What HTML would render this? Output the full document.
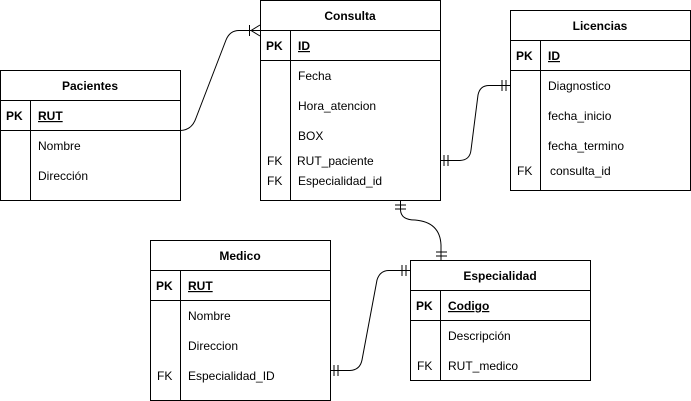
<!DOCTYPE html>
<html><head><meta charset="utf-8"><style>
html,body{margin:0;padding:0;background:#fff;}
svg{display:block;}
text{font-family:"Liberation Sans",Helvetica,Arial,sans-serif;font-size:12px;fill:#000;}
.b{font-weight:bold;}
</style></head><body>
<svg width="691" height="401" viewBox="0 0 691 401" xmlns="http://www.w3.org/2000/svg">
<g fill="#fff" stroke="#000" stroke-width="1">
<rect x="260.5" y="0.5" width="180" height="200"/>
<line x1="260.5" y1="30.5" x2="440.5" y2="30.5"/>
<line x1="260.5" y1="60.5" x2="440.5" y2="60.5"/>
<line x1="290.5" y1="30.5" x2="290.5" y2="200.5"/>
<rect x="0.5" y="70.5" width="180" height="130"/>
<line x1="0.5" y1="100.5" x2="180.5" y2="100.5"/>
<line x1="0.5" y1="130.5" x2="180.5" y2="130.5"/>
<line x1="30.5" y1="100.5" x2="30.5" y2="200.5"/>
<rect x="510.5" y="10.5" width="180" height="180"/>
<line x1="510.5" y1="40.5" x2="690.5" y2="40.5"/>
<line x1="510.5" y1="70.5" x2="690.5" y2="70.5"/>
<line x1="540.5" y1="40.5" x2="540.5" y2="190.5"/>
<rect x="150.5" y="240.5" width="180" height="160"/>
<line x1="150.5" y1="270.5" x2="330.5" y2="270.5"/>
<line x1="150.5" y1="300.5" x2="330.5" y2="300.5"/>
<line x1="180.5" y1="270.5" x2="180.5" y2="400.5"/>
<rect x="410.5" y="260.5" width="180" height="120"/>
<line x1="410.5" y1="290.5" x2="590.5" y2="290.5"/>
<line x1="410.5" y1="320.5" x2="590.5" y2="320.5"/>
<line x1="440.5" y1="290.5" x2="440.5" y2="380.5"/>
</g>
<g fill="none" stroke="#000" stroke-width="1">
<path d="M180.5 130.5 Q192 130 196 118 L226 40 Q230 30 240 30.5 L260 30.5"/>
<path d="M251 30.5 L260 25 M251 30.5 L260 36 M249.5 25 L249.5 36"/>
<path d="M440.5 160.5 L460 160.5 Q470 160 471 150 L478 95 Q480 85 490 85.5 L510 85.5"/>
<path d="M444 155 L444 166 M448 155 L448 166 M502 80 L502 91 M506 80 L506 91"/>
<path d="M400.5 200.5 L400.5 210 Q401 220 415 220 Q440 222 441 245 L441 260.5"/>
<path d="M395 205 L406 205 M395 209 L406 209 M436 252 L447 252 M436 256 L447 256"/>
<path d="M330.5 370.5 L350 370.5 Q360 370 362 360 L377 280 Q380 270 390 270.5 L410 270.5"/>
<path d="M334 365 L334 376 M338 365 L338 376 M402 265 L402 276 M406 265 L406 276"/>
</g>
<text x="350" y="20" text-anchor="middle" class="b">Consulta</text>
<text x="266" y="50" class="b">PK</text>
<text x="298" y="50" class="b" text-decoration="underline">ID</text>
<text x="298" y="80">Fecha</text>
<text x="298" y="110">Hora_atencion</text>
<text x="298" y="140">BOX</text>
<text x="267" y="165">FK</text>
<text x="297" y="165">RUT_paciente</text>
<text x="267" y="185">FK</text>
<text x="298" y="185">Especialidad_id</text>
<text x="90" y="90" text-anchor="middle" class="b">Pacientes</text>
<text x="6" y="120" class="b">PK</text>
<text x="38" y="120" class="b" text-decoration="underline">RUT</text>
<text x="38" y="150">Nombre</text>
<text x="38" y="180">Dirección</text>
<text x="600" y="30" text-anchor="middle" class="b">Licencias</text>
<text x="516" y="60" class="b">PK</text>
<text x="548" y="60" class="b" text-decoration="underline">ID</text>
<text x="548" y="90">Diagnostico</text>
<text x="548" y="120">fecha_inicio</text>
<text x="548" y="150">fecha_termino</text>
<text x="517" y="175">FK</text>
<text x="550" y="175">consulta_id</text>
<text x="240" y="260" text-anchor="middle" class="b">Medico</text>
<text x="156" y="290" class="b">PK</text>
<text x="188" y="290" class="b" text-decoration="underline">RUT</text>
<text x="188" y="320">Nombre</text>
<text x="188" y="350">Direccion</text>
<text x="157" y="380">FK</text>
<text x="188" y="380">Especialidad_ID</text>
<text x="500" y="280" text-anchor="middle" class="b">Especialidad</text>
<text x="416" y="310" class="b">PK</text>
<text x="448" y="310" class="b" text-decoration="underline">Codigo</text>
<text x="448" y="340">Descripción</text>
<text x="417" y="370">FK</text>
<text x="448" y="370">RUT_medico</text>
</svg>
</body></html>
